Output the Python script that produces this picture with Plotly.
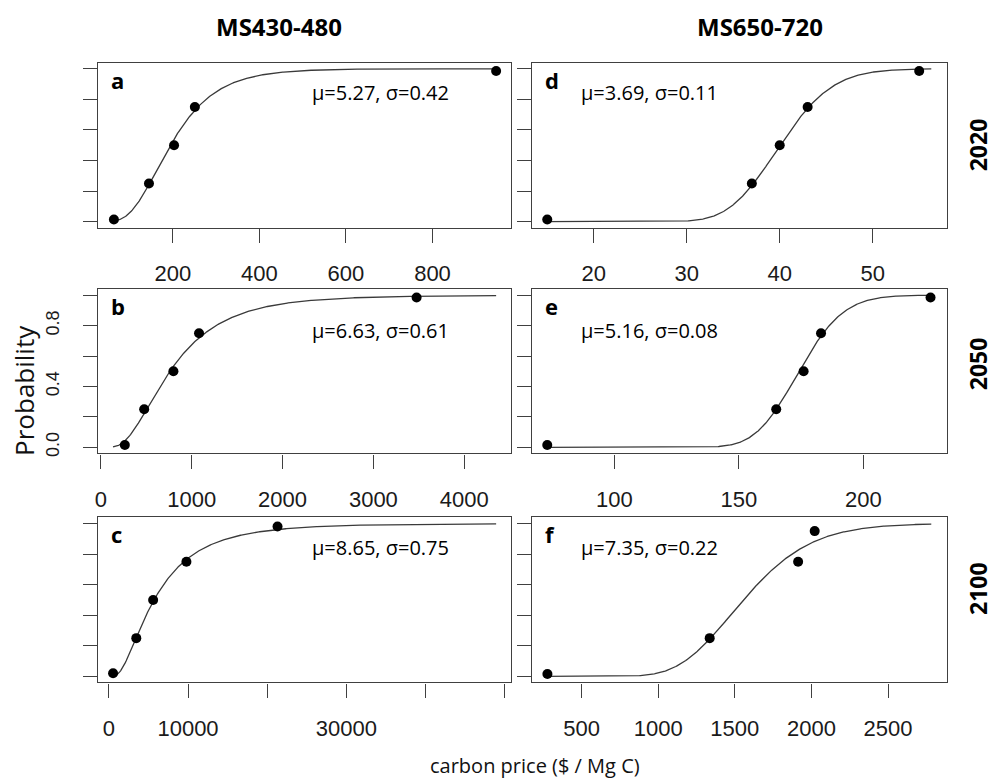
import math
import numpy as np
import plotly.graph_objects as go

# ---------------- data ----------------
panel_letters = ["a", "b", "c", "d", "e", "f"]
scenario_titles = ["MS430-480", "MS650-720"]
year_labels = ["2020", "2050", "2100"]

# fitted lognormal parameters shown in each panel
mu_vals = [5.27, 6.63, 8.65, 3.69, 5.16, 7.35]
sigma_vals = [0.42, 0.61, 0.75, 0.11, 0.08, 0.22]

# observed points: carbon price ($ / Mg C) and cumulative probability
a_price = [64, 145, 203, 251, 947]
a_prob = [0.015, 0.25, 0.50, 0.75, 0.985]
b_price = [263, 476, 798, 1080, 3476]
b_prob = [0.015, 0.25, 0.50, 0.75, 0.985]
c_price = [540, 3470, 5600, 9800, 21300]
c_prob = [0.02, 0.25, 0.50, 0.75, 0.98]
d_price = [15, 37, 40, 43, 55]
d_prob = [0.015, 0.25, 0.50, 0.75, 0.985]
e_price = [73, 165, 176, 183, 227]
e_prob = [0.015, 0.25, 0.50, 0.75, 0.985]
f_price = [277, 1336, 1913, 2021]
f_prob = [0.015, 0.25, 0.75, 0.95]

# price span over which each fitted curve is drawn
curve_lo = [62, 133, 535, 15, 73, 276]
curve_hi = [947, 4352, 48900, 56.3, 227.3, 2782]

# x tick values / labels
a_ticks = [200, 400, 600, 800]
a_ticktext = ["200", "400", "600", "800"]
b_ticks = [0, 1000, 2000, 3000, 4000]
b_ticktext = ["0", "1000", "2000", "3000", "4000"]
c_ticks = [0, 10000, 20000, 30000, 40000, 50000]
c_ticktext = ["0", "10000", "", "30000", "", ""]
d_ticks = [20, 30, 40, 50]
d_ticktext = ["20", "30", "40", "50"]
e_ticks = [100, 150, 200]
e_ticktext = ["100", "150", "200"]
f_ticks = [500, 1000, 1500, 2000, 2500]
f_ticktext = ["500", "1000", "1500", "2000", "2500"]

prob_ticks = [0.0, 0.2, 0.4, 0.6, 0.8, 1.0]
prob_ticktext = ["0.0", "", "0.4", "", "0.8", ""]

prices = [a_price, b_price, c_price, d_price, e_price, f_price]
probs = [a_prob, b_prob, c_prob, d_prob, e_prob, f_prob]
xticks = [a_ticks, b_ticks, c_ticks, d_ticks, e_ticks, f_ticks]
xticktexts = [a_ticktext, b_ticktext, c_ticktext, d_ticktext, e_ticktext, f_ticktext]

# ---------------- layout geometry ----------------
W, H = 995, 782
col_px = [(95, 510), (530.5, 946.5)]
row_px = [(63, 229), (290.7, 455.7), (520, 686)]
# panel -> (row, col)
pos = [(0, 0), (1, 0), (2, 0), (0, 1), (1, 1), (2, 1)]

LINE = "#404040"
TXT = "#1a1a1a"


def px_x(x):
    return x / W


def px_y(y):
    return 1 - y / H


def lnorm_cdf(x, m, s):
    return 0.5 * (1 + math.erf((math.log(x) - m) / (s * math.sqrt(2))))


fig = go.Figure()
layout = dict(
    width=W, height=H,
    margin=dict(l=0, r=0, t=0, b=0),
    paper_bgcolor="white", plot_bgcolor="white",
    showlegend=False,
)
annotations = []

for i in range(6):
    r, c = pos[i]
    ax = "" if i == 0 else str(i + 1)
    xname, yname = "x" + ax, "y" + ax

    lo, hi = curve_lo[i], curve_hi[i]
    cx = np.linspace(lo, hi, 500)
    cy = [lnorm_cdf(v, mu_vals[i], sigma_vals[i]) for v in cx]
    fig.add_trace(go.Scatter(x=cx, y=cy, mode="lines",
                             line=dict(color="#3a3a3a", width=1.3),
                             xaxis=xname, yaxis=yname, hoverinfo="skip"))
    fig.add_trace(go.Scatter(x=prices[i], y=probs[i], mode="markers",
                             marker=dict(color="black", size=10),
                             xaxis=xname, yaxis=yname))

    span = hi - lo
    xr = [lo - 0.04 * span, hi + 0.04 * span]
    x0, x1 = col_px[c]
    y0, y1 = row_px[r]
    common = dict(showgrid=False, zeroline=False, showline=True, mirror=True,
                  linecolor=LINE, linewidth=1.3, ticks="outside", ticklen=14,
                  tickcolor=LINE, tickwidth=1.3)
    layout["xaxis" + ax] = dict(
        domain=[px_x(x0), px_x(x1)], anchor=yname, range=xr,
        tickmode="array", tickvals=xticks[i], ticktext=xticktexts[i],
        tickfont=dict(family="Liberation Sans", size=22, color=TXT),
        ticklabelstandoff=12, **common)
    layout["yaxis" + ax] = dict(
        domain=[px_y(y1), px_y(y0)], anchor=xname, range=[-0.04, 1.04],
        tickmode="array", tickvals=prob_ticks,
        ticktext=prob_ticktext if i == 1 else [""] * len(prob_ticks),
        tickangle=-90,
        tickfont=dict(family="Liberation Sans", size=18, color=TXT),
        ticklabelstandoff=16, **common)

    # panel letter
    annotations.append(dict(
        text="<b>%s</b>" % panel_letters[i], xref="paper", yref="paper",
        x=px_x(x0 + 11), y=px_y(y0 + 17), xanchor="left", yanchor="middle",
        showarrow=False, font=dict(family="Open Sans", size=22, color="black")))
    # parameter text
    tx = x0 + (213 if c == 0 else 47)
    ty = y0 + (41 if r == 1 else 30)
    annotations.append(dict(
        text="\u03bc=%.2f, \u03c3=%.2f" % (mu_vals[i], sigma_vals[i]),
        xref="paper", yref="paper", x=px_x(tx), y=px_y(ty),
        xanchor="left", yanchor="middle", showarrow=False,
        font=dict(family="Open Sans", size=20, color="black")))

# column titles
for tx, t in zip([277, 759], scenario_titles):
    annotations.append(dict(text="<b>%s</b>" % t, xref="paper", yref="paper",
                            x=px_x(tx), y=px_y(27), showarrow=False,
                            xanchor="center", yanchor="middle",
                            font=dict(family="Open Sans", size=24, color="black")))
# row labels
for ty, t in zip([146, 366, 592], year_labels):
    annotations.append(dict(text="<b>%s</b>" % t, xref="paper", yref="paper",
                            x=px_x(978), y=px_y(ty), showarrow=False, textangle=-90,
                            xanchor="center", yanchor="middle",
                            font=dict(family="Open Sans", size=23, color="black")))
# axis titles
annotations.append(dict(text="Probability", xref="paper", yref="paper",
                        x=px_x(21), y=px_y(392), showarrow=False, textangle=-90,
                        xanchor="center", yanchor="middle",
                        font=dict(family="Open Sans", size=26, color="#111")))
annotations.append(dict(text="carbon price ($ / Mg C)", xref="paper", yref="paper",
                        x=px_x(534), y=px_y(769), showarrow=False,
                        xanchor="center", yanchor="middle",
                        font=dict(family="Open Sans", size=20, color="#111")))

layout["annotations"] = annotations
fig.update_layout(**layout)
fig.write_html("out.html",
               config={"displayModeBar": False},
               post_script="document.body.style.margin='0';"
                           "document.body.style.overflow='hidden';")
